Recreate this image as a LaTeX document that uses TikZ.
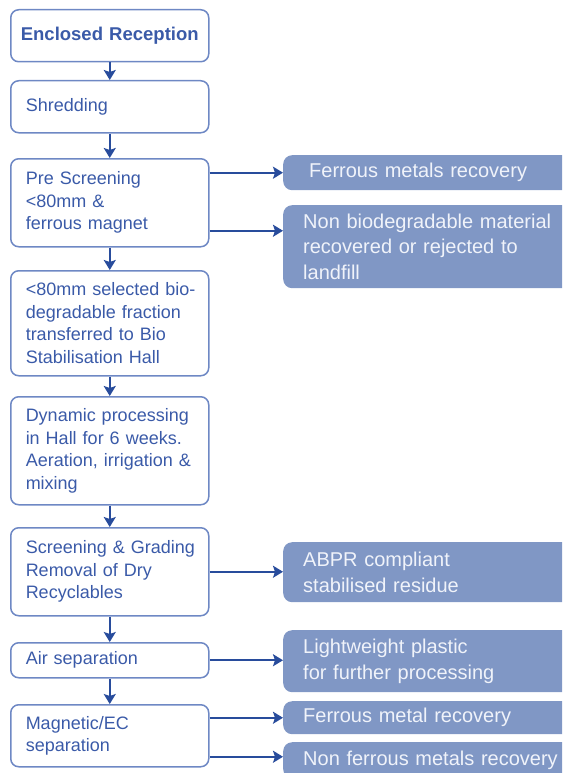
\documentclass[tikz,border=0pt]{standalone}
\usepackage{fontspec}
\setmainfont{Liberation Sans}
\usetikzlibrary{arrows.meta}

\definecolor{boxline}{RGB}{110,136,196}
\definecolor{boxtext}{RGB}{58,90,168}
\definecolor{arrowblue}{RGB}{40,76,156}
\definecolor{outfill}{RGB}{128,151,197}
\definecolor{outtext}{RGB}{240,243,250}

\tikzset{
  stagebox/.style={draw=boxline, line width=1.5pt, rounded corners=8pt,
    anchor=north west, minimum width=198pt, text=boxtext},
  stage/.style={stagebox, text width=176pt, inner xsep=11pt, align=left,
    execute at begin node={\leftskip=4pt},
    font=\fontsize{18}{22.5}\selectfont},
  output/.style={fill=outfill, rounded corners=9pt, anchor=north west,
    minimum width=300pt, text width=260pt, inner xsep=20pt, align=left,
    text=outtext, font=\fontsize{20}{25.5}\selectfont},
  flow/.style={draw=arrowblue, line width=2pt,
    -{Stealth[length=10pt,width=12pt,inset=2pt]}}
}

\begin{document}
\begin{tikzpicture}[x=1pt,y=-1pt]
  \useasboundingbox (0,0) rectangle (562,773);
  \clip (0,0) rectangle (562,773);

  % process stages
  \node[stagebox, minimum height=52pt, text width=190pt, inner xsep=4pt, align=center,
    font=\bfseries\fontsize{18.5}{22.5}\selectfont] (enc) at (10,9) {Enclosed Reception};
  \node[stage, minimum height=52pt] (shred) at (10,80) {Shredding};
  \node[stage, minimum height=88pt] (pre) at (10,158)
    {Pre Screening\\ <80mm \&\\ ferrous magnet};
  \node[stage, minimum height=105pt] (bio) at (10,270)
    {<80mm selected bio-\\ degradable fraction\\ transferred to Bio\\ Stabilisation Hall};
  \node[stage, minimum height=108pt] (dyn) at (10,396)
    {Dynamic processing\\ in Hall for 6 weeks.\\ Aeration, irrigation \&\\ mixing};
  \node[stage, minimum height=88pt] (grade) at (10,527)
    {Screening \& Grading\\ Removal of Dry\\ Recyclables};
  \node[stage, minimum height=35pt] (air) at (10,642) {Air separation};
  \node[stage, minimum height=62pt] (mag) at (10,704) {Magnetic/EC\\ separation};

  % outputs
  \node[output, minimum height=35pt] (fe1) at (283,155)
    {\hspace*{6pt}Ferrous metals recovery};
  \node[output, minimum height=83pt] (nonbio) at (283,205)
    {Non biodegradable material\\ recovered or rejected to\\ landfill};
  \node[output, minimum height=60pt] (abpr) at (283,542)
    {ABPR compliant\\ stabilised residue};
  \node[output, minimum height=62pt] (light) at (283,630)
    {Lightweight plastic\\ for further processing};
  \node[output, minimum height=33pt] (fe2) at (283,701) {Ferrous metal recovery};
  \node[output, minimum height=36pt] (nonfe) at (283,742) {Non ferrous metals recovery};

  % main flow
  \draw[flow] (enc) -- (shred);
  \draw[flow] (shred) -- (pre);
  \draw[flow] (pre) -- (bio);
  \draw[flow] (bio) -- (dyn);
  \draw[flow] (dyn) -- (grade);
  \draw[flow] (grade) -- (air);
  \draw[flow] (air) -- (mag);

  % side outputs
  \coordinate (pre2) at ([yshift=-28pt]pre.east);
  \coordinate (mag1) at ([yshift=18pt]mag.east);
  \coordinate (mag2) at ([yshift=-21pt]mag.east);
  \draw[flow] (pre.east |- fe1.west) -- (fe1.west);
  \draw[flow] (pre2) -- (pre2 -| nonbio.west);
  \draw[flow] (grade.east) -- (grade.east -| abpr.west);
  \draw[flow] (air.east) -- (air.east -| light.west);
  \draw[flow] (mag1) -- (mag1 -| fe2.west);
  \draw[flow] (mag2) -- (mag2 -| nonfe.west);
\end{tikzpicture}
\end{document}
